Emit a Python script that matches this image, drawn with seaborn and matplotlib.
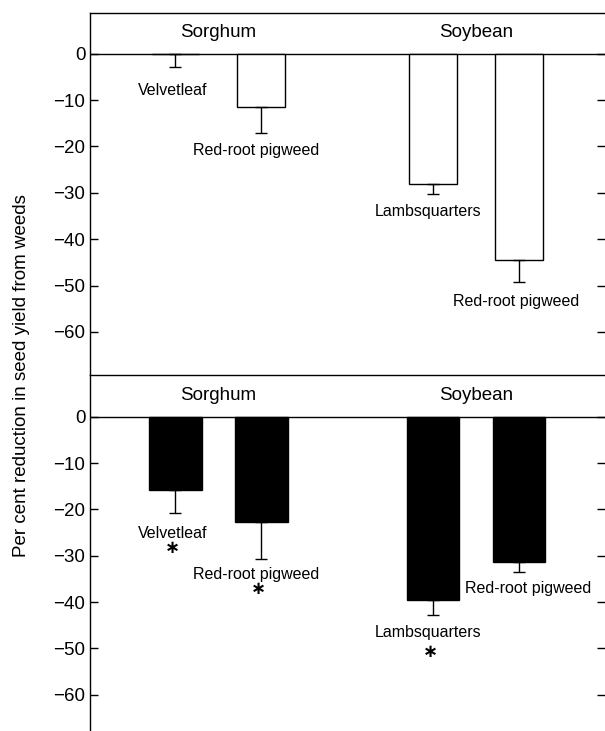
import numpy as np
import matplotlib
matplotlib.use('Agg')
import matplotlib.pyplot as plt
import seaborn as sns

# Data
weeds = ['Velvetleaf', 'Red-root pigweed', 'Lambsquarters', 'Red-root pigweed']
crops = ['Sorghum', 'Sorghum', 'Soybean', 'Soybean']
positions = [0, 1, 3, 4]

# top panel (open bars)
top_values = [0.0, -11.5, -28.1, -44.5]
top_err = [2.9, 5.6, 2.2, 4.8]

# bottom panel (filled bars)
bottom_values = [-15.8, -22.7, -39.6, -31.3]
bottom_err = [4.9, 7.9, 3.1, 2.3]
bottom_signif = [True, True, True, False]

yticks = [0, -10, -20, -30, -40, -50, -60]

# Label placement (x offset, y in data units)
top_label_y = [-8.0, -20.8, -34.0, -53.5]
top_label_dx = [-0.03, -0.06, -0.06, -0.04]
bottom_label_y = [-25.2, -34.0, -46.6, -37.0]
bottom_label_dx = [-0.03, -0.06, -0.06, 0.1]
star_y = [-28.4, -37.2, -50.7]

sns.set_theme(style='white')
plt.rcParams['font.family'] = ['Liberation Sans', 'DejaVu Sans']
plt.rcParams['text.color'] = 'black'

fig = plt.figure(figsize=(6.05, 7.31), dpi=100)
left = 89.5 / 605
ax_top = fig.add_axes([left, 0.487, 1 - left, 0.9826 - 0.487])
ax_bot = fig.add_axes([left, 0.0, 1 - left, 0.487])


def draw_panel(ax, values, err, fill, width, ylim):
    sns.barplot(x=positions, y=values, native_scale=True, width=width,
                color=fill, edgecolor='black', linewidth=1.0,
                saturation=1, errorbar=None, ax=ax)
    ax.errorbar(positions, values, yerr=[err, np.zeros(len(err))],
                fmt='none', ecolor='black', elinewidth=1.0,
                capsize=4.5, capthick=1.0)
    ax.axhline(0, color='black', lw=1.0, zorder=0.5)
    ax.set_xlim(-1, 5)
    ax.set_ylim(*ylim)
    ax.set_yticks(yticks)
    ax.set_xticks([])
    ax.set_xlabel('')
    ax.set_ylabel('')
    ax.tick_params(axis='y', which='both', direction='in', length=6, width=1,
                   left=True, right=True, labelsize=13.5, pad=3, colors='black')
    for side in ['left', 'top', 'bottom']:
        ax.spines[side].set_color('black')
        ax.spines[side].set_linewidth(1.0)
    ax.spines['right'].set_visible(False)
    ax.text(0.5, 4.5, 'Sorghum', ha='center', va='center', fontsize=13.5)
    ax.text(3.5, 4.5, 'Soybean', ha='center', va='center', fontsize=13.5)


draw_panel(ax_top, top_values, top_err, 'white', 0.555, (-69.3, 8.85))
draw_panel(ax_bot, bottom_values, bottom_err, 'black', 0.61, (-67.8, 9.0))
ax_top.spines['bottom'].set_visible(False)
ax_bot.spines['bottom'].set_visible(False)

for p, w, dx, y in zip(positions, weeds, top_label_dx, top_label_y):
    ax_top.text(p + dx, y, w, ha='center', va='center', fontsize=11.5)

for p, w, dx, y in zip(positions, weeds, bottom_label_dx, bottom_label_y):
    ax_bot.text(p + dx, y, w, ha='center', va='center', fontsize=11.5)

# significance asterisks under the filled bars
k = 0
for p, s in zip(positions, bottom_signif):
    if s:
        ax_bot.text(p - 0.03, star_y[k], '\u2217', ha='center', va='center',
                    fontsize=13, fontweight='bold', family='DejaVu Sans')
        k += 1

fig.text(0.036, 0.486, 'Per cent reduction in seed yield from weeds',
         rotation=90, ha='center', va='center', fontsize=13.5)

fig.savefig('out.png', dpi=100)
